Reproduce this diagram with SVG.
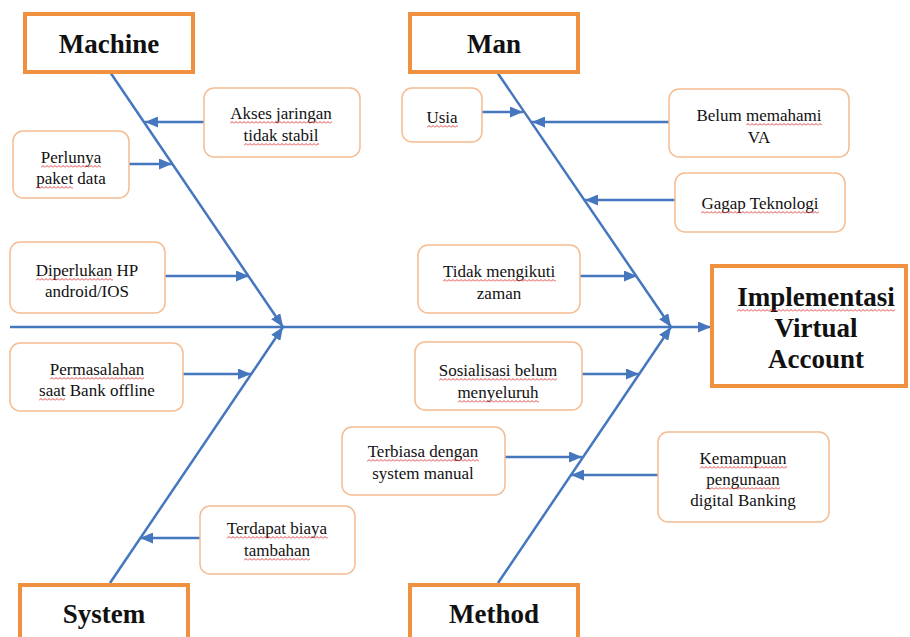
<svg xmlns="http://www.w3.org/2000/svg" width="910" height="637" viewBox="0 0 910 637">
<defs>
<marker id="ah" markerUnits="userSpaceOnUse" markerWidth="13" markerHeight="11" refX="13" refY="5.5" orient="auto">
<path d="M0,0 L13,5.5 L0,11 z" fill="#4677BE"/>
</marker>
<pattern id="sq" patternUnits="userSpaceOnUse" width="4" height="3">
<path d="M0,2.5 L2,0.5 L4,2.5" fill="none" stroke="#E03030" stroke-width="0.9"/>
</pattern>
<style>
.cat{fill:#fff;stroke:#F0913F;stroke-width:4}
.box{fill:#fff;stroke:#F5BC91;stroke-width:1.5}
.ar{stroke:#4677BE;stroke-width:2.5;fill:none;marker-end:url(#ah)}
.t{font-family:'Liberation Serif','DejaVu Serif',serif;font-size:17px;fill:#111;text-anchor:middle}
.h{font-family:'Liberation Serif','DejaVu Serif',serif;font-size:27px;font-weight:bold;fill:#111;text-anchor:middle}
.sq{fill:url(#sq)}
</style>
</defs>
<rect width="910" height="637" fill="#fff"/>

<g id="connectors">
<line class="ar" x1="10" y1="327" x2="711" y2="327"/>
<line class="ar" x1="110" y1="72" x2="283" y2="327"/>
<line class="ar" x1="110" y1="583" x2="283" y2="327"/>
<line class="ar" x1="497" y1="72" x2="671" y2="327"/>
<line class="ar" x1="498" y1="583" x2="671" y2="327"/>
<line class="ar" x1="204" y1="122" x2="145" y2="122"/>
<line class="ar" x1="129" y1="164" x2="172" y2="164"/>
<line class="ar" x1="165" y1="276" x2="249" y2="276"/>
<line class="ar" x1="183" y1="374" x2="251" y2="374"/>
<line class="ar" x1="200" y1="538" x2="140" y2="538"/>
<line class="ar" x1="482" y1="112" x2="523" y2="112"/>
<line class="ar" x1="669" y1="122" x2="532" y2="122"/>
<line class="ar" x1="675" y1="200" x2="585" y2="200"/>
<line class="ar" x1="580" y1="276" x2="637" y2="276"/>
<line class="ar" x1="582" y1="374" x2="639" y2="374"/>
<line class="ar" x1="505" y1="457" x2="582" y2="457"/>
<line class="ar" x1="658" y1="475" x2="571" y2="475"/>
</g>

<g id="machine"><rect class="cat" x="25" y="14" width="168" height="58"/><text class="h" x="109" y="53">Machine</text></g>
<g id="man"><rect class="cat" x="410" y="14" width="168" height="58"/><text class="h" x="494" y="53">Man</text></g>
<g id="system"><rect class="cat" x="20" y="585" width="168" height="60"/><text class="h" x="104" y="623">System</text></g>
<g id="method"><rect class="cat" x="410" y="585" width="168" height="60"/><text class="h" x="494" y="623">Method</text></g>
<g id="effect"><rect class="cat" x="712" y="266" width="194" height="120"/>
<text class="h" x="816" y="306">Implementasi</text>
<rect class="sq" transform="translate(737,309)" width="158" height="3"/>
<text class="h" x="816" y="337">Virtual</text>
<text class="h" x="816" y="368">Account</text></g>

<g id="akses"><rect class="box" x="204" y="88" width="156" height="69" rx="10"/>
<text class="t" x="281" y="119">Akses jaringan</text>
<rect class="sq" transform="translate(230,121)" width="102" height="3"/>
<text class="t" x="281" y="141">tidak stabil</text>
<rect class="sq" transform="translate(244,143)" width="75" height="3"/></g>
<g id="perlunya"><rect class="box" x="13" y="131" width="116" height="67" rx="10"/>
<text class="t" x="71" y="163">Perlunya</text>
<rect class="sq" transform="translate(41,165)" width="60" height="3"/>
<text class="t" x="71" y="184">paket data</text>
<rect class="sq" transform="translate(36,186)" width="37" height="3"/></g>
<g id="diperlukan"><rect class="box" x="10" y="242" width="155" height="71" rx="10"/>
<text class="t" x="87" y="276">Diperlukan HP</text>
<rect class="sq" transform="translate(36,278)" width="77" height="3"/>
<text class="t" x="87" y="297">android/IOS</text></g>
<g id="permasalahan"><rect class="box" x="10" y="343" width="173" height="68" rx="10"/>
<text class="t" x="97" y="375">Permasalahan</text>
<rect class="sq" transform="translate(50,377)" width="94" height="3"/>
<text class="t" x="97" y="396">saat Bank offline</text>
<rect class="sq" transform="translate(39,398)" width="26" height="3"/></g>
<g id="terdapat"><rect class="box" x="200" y="506" width="155" height="68" rx="10"/>
<text class="t" x="277" y="534">Terdapat biaya</text>
<rect class="sq" transform="translate(227,536)" width="101" height="3"/>
<text class="t" x="277" y="556">tambahan</text>
<rect class="sq" transform="translate(244,558)" width="66" height="3"/></g>

<g id="usia"><rect class="box" x="402" y="88" width="80" height="54" rx="10"/>
<text class="t" x="442" y="123">Usia</text>
<rect class="sq" transform="translate(427,125)" width="31" height="3"/></g>
<g id="belum"><rect class="box" x="669" y="89" width="180" height="68" rx="10"/>
<text class="t" x="759" y="121">Belum memahami</text>
<rect class="sq" transform="translate(746,123)" width="76" height="3"/>
<text class="t" x="759" y="143">VA</text></g>
<g id="gagap"><rect class="box" x="675" y="173" width="170" height="59" rx="10"/>
<text class="t" x="760" y="209">Gagap Teknologi</text>
<rect class="sq" transform="translate(701,211)" width="118" height="3"/></g>
<g id="tidak"><rect class="box" x="418" y="245" width="162" height="68" rx="10"/>
<text class="t" x="499" y="277">Tidak mengikuti</text>
<rect class="sq" transform="translate(443,279)" width="113" height="3"/>
<text class="t" x="499" y="299">zaman</text></g>
<g id="sosialisasi"><rect class="box" x="415" y="342" width="167" height="68" rx="10"/>
<text class="t" x="498" y="376">Sosialisasi belum</text>
<rect class="sq" transform="translate(439,378)" width="118" height="3"/>
<text class="t" x="498" y="398">menyeluruh</text>
<rect class="sq" transform="translate(458,400)" width="81" height="3"/></g>
<g id="terbiasa"><rect class="box" x="342" y="427" width="163" height="68" rx="10"/>
<text class="t" x="423" y="457">Terbiasa dengan</text>
<rect class="sq" transform="translate(367,459)" width="112" height="3"/>
<text class="t" x="423" y="479">system manual</text></g>
<g id="kemampuan"><rect class="box" x="658" y="432" width="171" height="90" rx="10"/>
<text class="t" x="743" y="464">Kemampuan</text>
<rect class="sq" transform="translate(700,466)" width="87" height="3"/>
<text class="t" x="743" y="485">pengunaan</text>
<rect class="sq" transform="translate(706,487)" width="74" height="3"/>
<text class="t" x="743" y="506">digital Banking</text></g>
</svg>
